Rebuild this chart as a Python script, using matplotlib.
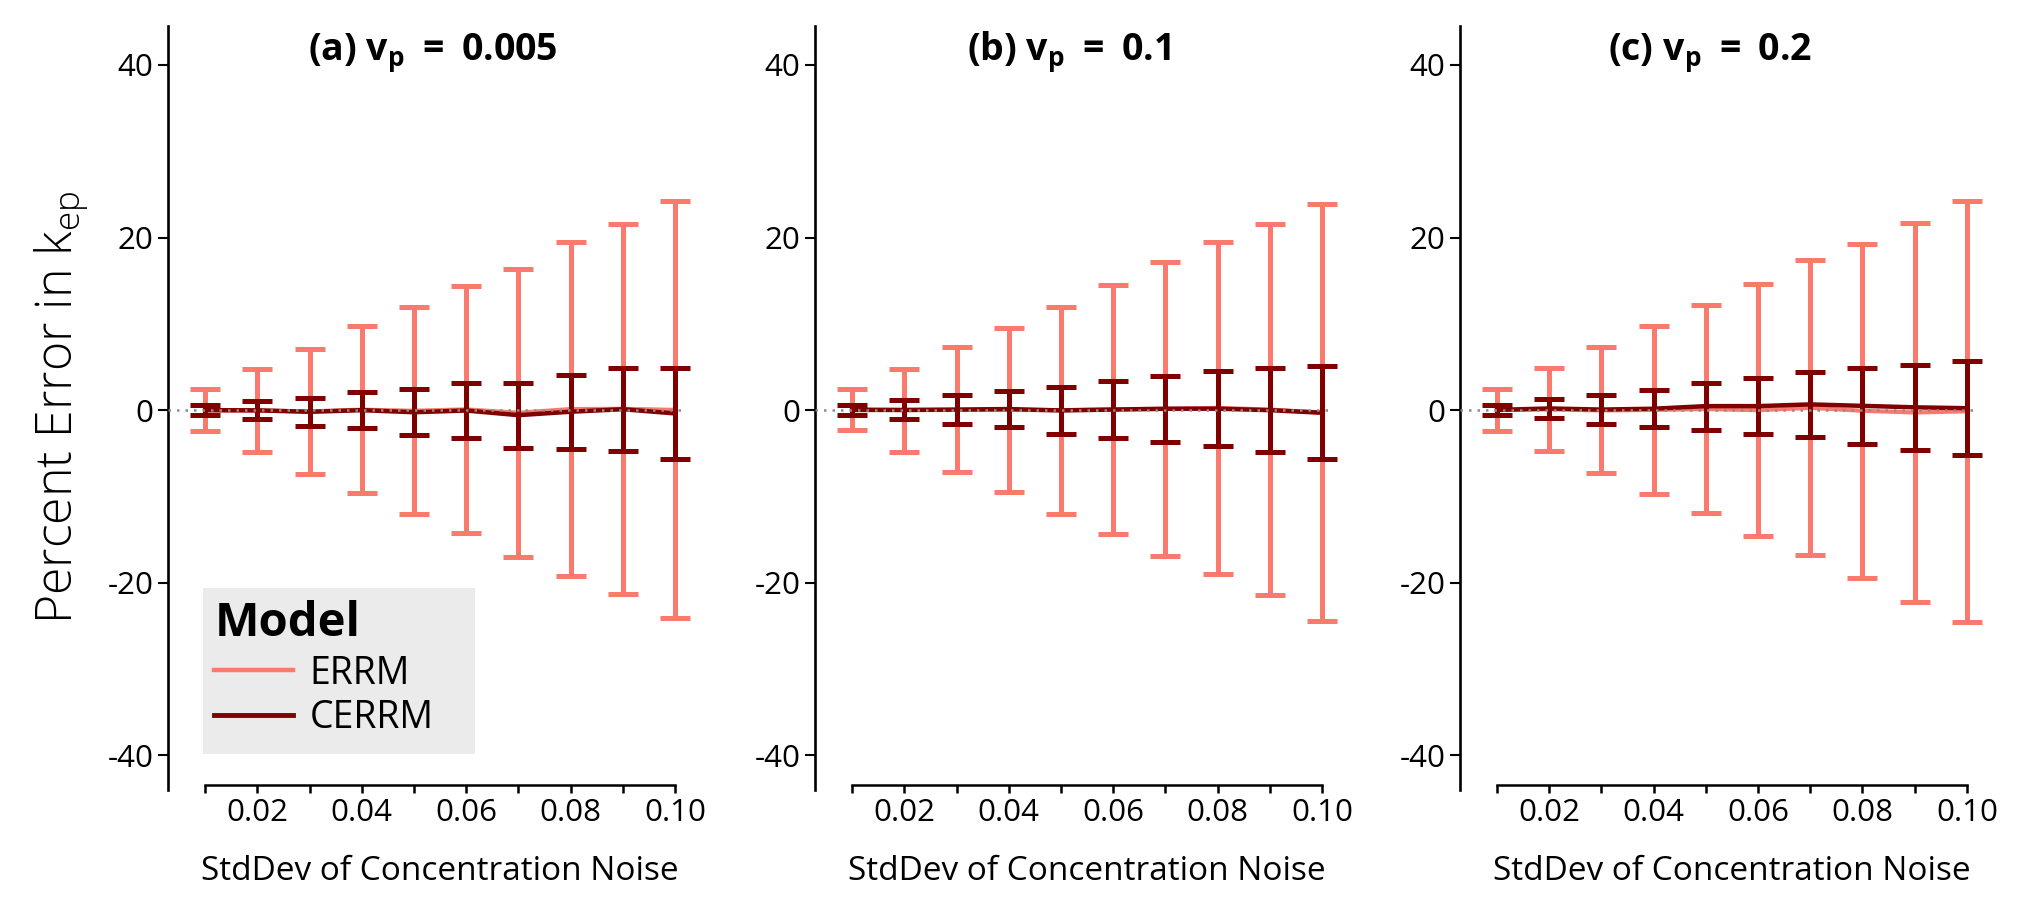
import numpy as np
import matplotlib
matplotlib.use("Agg")
import matplotlib.pyplot as plt
from matplotlib.lines import Line2D
from matplotlib.patches import Rectangle

plt.rcParams['font.family'] = ['Open Sans', 'DejaVu Sans']
plt.rcParams['axes.unicode_minus'] = False

# noise levels on the x axis
noise_sd = [0.01, 0.02, 0.03, 0.04, 0.05, 0.06, 0.07, 0.08, 0.09, 0.10]
y_ticks = [-40, -20, 0, 20, 40]
panel_titles = ["(a) v$\\mathregular{_p}$\u2009 = \u20090.005",
                "(b) v$\\mathregular{_p}$\u2009 = \u20090.1",
                "(c) v$\\mathregular{_p}$\u2009 = \u20090.2"]
model_names = ["ERRM", "CERRM"]

# percent error in kep: mean and +/- spread
errm_mean_a = [0.0, -0.04, -0.14, 0.06, -0.07, 0.09, -0.30, 0.13, 0.16, 0.03]
errm_err_a = [2.43, 4.79, 7.21, 9.68, 12.0, 14.35, 16.71, 19.3, 21.46, 24.15]
cerrm_mean_a = [0.0, -0.02, -0.19, 0.0, -0.24, -0.04, -0.58, -0.18, 0.11, -0.38]
cerrm_err_a = [0.58, 1.06, 1.62, 2.12, 2.67, 3.21, 3.75, 4.27, 4.83, 5.28]

errm_mean_b = [0.10, 0.0, 0.03, 0.03, 0.0, 0.10, 0.13, 0.27, 0.07, -0.27]
errm_err_b = [2.37, 4.8, 7.23, 9.5, 12.0, 14.43, 17.0, 19.2, 21.53, 24.13]
cerrm_mean_b = [0.03, 0.03, 0.07, 0.13, -0.03, 0.07, 0.17, 0.17, 0.0, -0.30]
cerrm_err_b = [0.57, 1.1, 1.67, 2.13, 2.7, 3.27, 3.83, 4.37, 4.87, 5.37]

errm_mean_c = [0.0, 0.10, -0.03, 0.03, 0.13, 0.0, 0.27, -0.07, -0.27, -0.13]
errm_err_c = [2.4, 4.83, 7.3, 9.7, 12.07, 14.6, 17.07, 19.33, 21.93, 24.4]
cerrm_mean_c = [0.03, 0.2, 0.07, 0.17, 0.47, 0.47, 0.67, 0.5, 0.33, 0.23]
cerrm_err_c = [0.57, 1.13, 1.67, 2.17, 2.73, 3.27, 3.8, 4.37, 4.93, 5.43]

panels = [
    (errm_mean_a, errm_err_a, cerrm_mean_a, cerrm_err_a),
    (errm_mean_b, errm_err_b, cerrm_mean_b, cerrm_err_b),
    (errm_mean_c, errm_err_c, cerrm_mean_c, cerrm_err_c),
]

ERRM_COL = '#FA7A6E'
CERRM_COL = '#800000'

fig = plt.figure(figsize=(20.37, 9.0), dpi=100)
lefts = [0.0825, 0.4001, 0.7167]
title_x = [0.487, 0.467, 0.459]
axes = []
for i, (em, ee, cm, ce) in enumerate(panels):
    ax = fig.add_axes([lefts[i], 0.1222, 0.2671, 0.8489])
    axes.append(ax)

    ax.errorbar(noise_sd, em, yerr=ee, color=ERRM_COL, lw=3.0, elinewidth=3.6,
                capsize=10.5, capthick=3.6, zorder=2)
    ax.errorbar(noise_sd, cm, yerr=ce, color=CERRM_COL, lw=3.2, elinewidth=3.6,
                capsize=10.5, capthick=3.6, zorder=3)
    ax.hlines(0, 0.0029, 0.1017, colors='#8c8c8c', lw=1.8,
              linestyles=(0, (1, 2.4)), zorder=4)

    ax.set_xlim(0.0029, 0.1071)
    ax.set_ylim(-44, 44.5)

    ax.spines['top'].set_visible(False)
    ax.spines['right'].set_visible(False)
    ax.spines['left'].set_linewidth(1.9)
    ax.spines['bottom'].set_linewidth(1.8)
    ax.spines['bottom'].set_position(('data', -43.4))
    ax.spines['bottom'].set_bounds(0.01, 0.10)

    ax.set_yticks(y_ticks)
    ax.set_yticklabels([str(v) for v in y_ticks])
    ax.set_xticks(noise_sd)
    ax.set_xticklabels(["%.2f" % v if k % 2 == 1 else "" for k, v in enumerate(noise_sd)])
    ax.tick_params(axis='y', length=7.5, width=1.5, pad=3, labelsize=22.5)
    ax.tick_params(axis='x', length=5.5, width=1.8, pad=4, labelsize=22.5)

    ax.text(title_x[i], 0.9555, panel_titles[i], transform=ax.transAxes,
            ha='center', va='baseline', fontsize=27, fontweight='bold')
    ax.text(0.5, -0.118, "StdDev of Concentration Noise", transform=ax.transAxes,
            ha='center', va='baseline', fontsize=24)

fig.text(0.016, 0.547, "Percent Error in k$\\mathregular{_{ep}}$", rotation=90,
         ha='left', va='center', fontsize=36, fontweight='light')

# legend: grey box, bold title, then the two line entries
lax = axes[0]
lax.add_patch(Rectangle((0.00962, -39.83), 0.06173 - 0.00962, 39.83 - 20.58,
                        facecolor='#EBEBEB', edgecolor='none', zorder=5))
lax.text(0.0119, -26.14, "Model", ha='left', va='baseline',
         fontsize=34, fontweight='bold', zorder=6)
handles = [Line2D([], [], color=ERRM_COL, lw=3.2),
           Line2D([], [], color=CERRM_COL, lw=3.5)]
leg = lax.legend(handles, model_names, loc='upper left',
                 bbox_to_anchor=(0.00962, -27.0), bbox_transform=lax.transData,
                 borderaxespad=0, frameon=False, fontsize=27,
                 handlelength=2.1, handletextpad=0.44,
                 borderpad=0.3, labelspacing=0.18)
leg.set_zorder(7)

fig.savefig("out.png", dpi=100)
